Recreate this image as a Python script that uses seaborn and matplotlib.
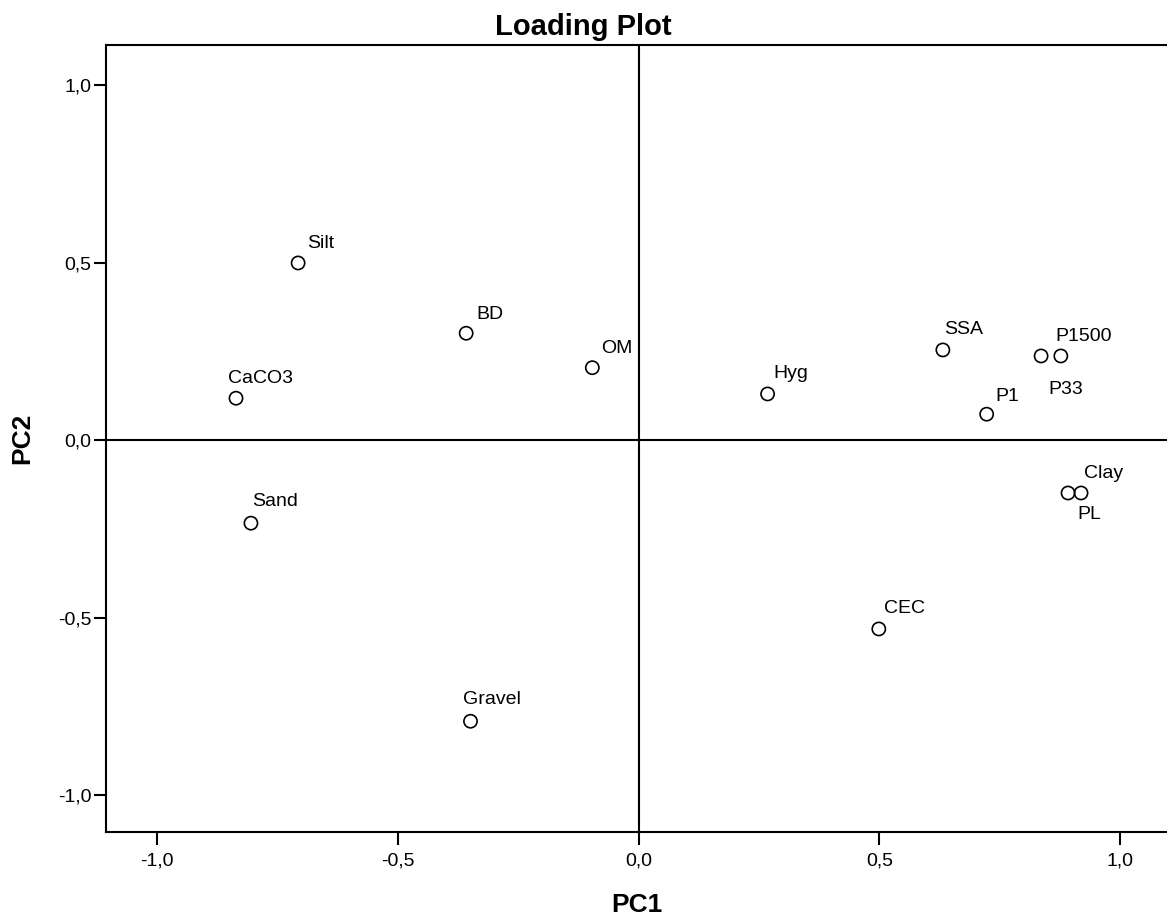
import matplotlib
matplotlib.use("Agg")
import matplotlib.pyplot as plt
import seaborn as sns
import pandas as pd
from matplotlib.ticker import FuncFormatter

# Component loadings of the soil variables on the first two principal components
variables = ["Silt", "BD", "CaCO3", "OM", "Sand", "Gravel", "Hyg", "SSA",
             "P1", "P33", "P1500", "PL", "Clay", "CEC"]
pc1 = [-0.707, -0.358, -0.836, -0.096, -0.805, -0.349, 0.268, 0.632,
       0.723, 0.836, 0.877, 0.892, 0.919, 0.499]
pc2 = [0.499, 0.301, 0.118, 0.204, -0.234, -0.792, 0.130, 0.254,
       0.073, 0.237, 0.237, -0.149, -0.149, -0.532]

# label placement (left edge / baseline of the text relative to the marker, in pixels)
label_dx = [9, 10, -8, 9, 1, -8, 6, 1, 9, 7, -5, 9, 3, 5]
label_dy = [15, 14, 15, 15, 17, 17, 16, 16, 13, -38, 15, -26, 15, 16]

ticks = [-1.0, -0.5, 0.0, 0.5, 1.0]

df = pd.DataFrame({"variable": variables, "PC1": pc1, "PC2": pc2})

sns.set_style("ticks")
plt.rcParams["font.family"] = ["Liberation Sans", "DejaVu Sans"]
plt.rcParams["text.color"] = "black"
plt.rcParams["axes.labelcolor"] = "black"

W, H = 1167, 919
fig = plt.figure(figsize=(W / 100, H / 100), dpi=100)
ax = fig.add_axes([106 / W, 1 - 832 / H, (W - 106) / W, (832 - 45) / H])

ax.axhline(0, color="black", lw=1.5, zorder=1)
ax.axvline(0, color="black", lw=1.5, zorder=1)

sns.scatterplot(data=df, x="PC1", y="PC2", ax=ax, s=90, marker="o",
                facecolors="none", edgecolor="black", linewidth=1.2, zorder=3)

for name, x, y, dx, dy in zip(variables, pc1, pc2, label_dx, label_dy):
    ax.annotate(name, (x, y), xytext=(dx, dy), textcoords="offset pixels",
                ha="left", va="baseline", fontsize=14, color="black")

ax.set_xlim(-1.106, 1.0975)
ax.set_ylim(-1.104, 1.113)
ax.set_xticks(ticks)
ax.set_yticks(ticks)
fmt = FuncFormatter(lambda v, p: f"{v:.1f}".replace(".", ",").replace("-0,0", "0,0"))
ax.xaxis.set_major_formatter(fmt)
ax.yaxis.set_major_formatter(fmt)
ax.tick_params(axis="both", direction="out", length=9, width=1.5,
               labelsize=14, color="black", labelcolor="black")
ax.tick_params(axis="x", pad=6)
ax.tick_params(axis="y", pad=1.5)

for side in ["left", "bottom", "top"]:
    ax.spines[side].set_linewidth(1.5)
    ax.spines[side].set_color("black")
ax.spines["right"].set_visible(False)

ax.set_xlabel("PC1", fontsize=19, fontweight="bold", labelpad=17, color="black")
ax.set_ylabel("PC2", fontsize=19, fontweight="bold", labelpad=17, color="black")
fig.text(0.5, 1 - 27 / H, "Loading Plot", ha="center", va="center",
         fontsize=21, fontweight="bold", color="black")

fig.savefig("out.png", dpi=100)
